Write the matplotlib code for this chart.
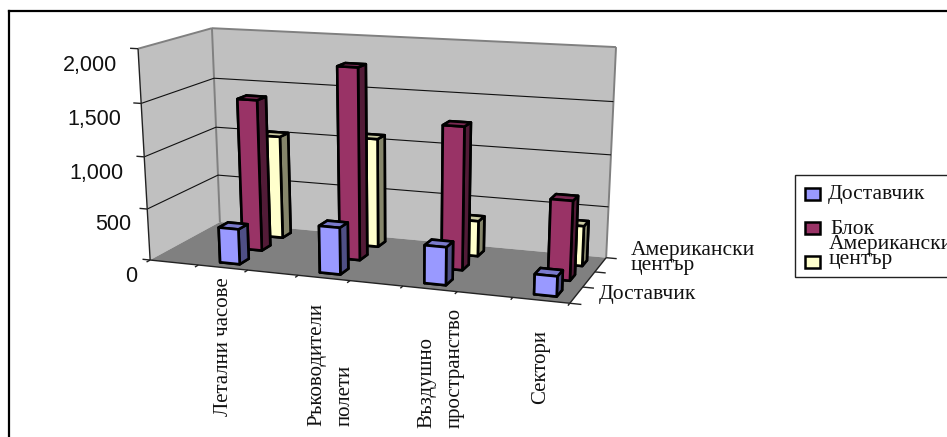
import matplotlib
matplotlib.use('Agg')
import matplotlib.pyplot as plt
import numpy as np
from matplotlib.lines import Line2D
from matplotlib.patches import Rectangle
from mpl_toolkits.mplot3d.art3d import Poly3DCollection, Line3DCollection

W, H = 947, 437

# data
categories = ['Летални часове', 'Ръководители\nполети', 'Въздушно\nпространство', 'Сектори']
series_names = ['Доставчик', 'Блок', 'Американски\nцентър']
supplier = [340, 445, 355, 185]
block = [1470, 1830, 1350, 745]
american = [1025, 1070, 345, 385]
z_ticks = [0, 500, 1000, 1500, 2000]
z_labels = ['0', '500', '1,000', '1,500', '2,000']

# box corners of the chart (x, y, z) -> pixel in the picture
X_MAX, Y_MAX, Z_MAX = 8, 3, 2000
corners = [((0, 0, 0), (150, 260)), ((0, 0, Z_MAX), (138, 49)),
           ((0, Y_MAX, Z_MAX), (212, 28)), ((0, Y_MAX, 0), (220, 222)),
           ((X_MAX, Y_MAX, Z_MAX), (616, 47)), ((X_MAX, Y_MAX, 0), (606, 258)),
           ((X_MAX, 0, 0), (570, 303))]


def fit_projection(pts):
    rows = []
    for (x, y, z), (u, v) in pts:
        v = H - v
        rows.append([x, y, z, 1, 0, 0, 0, 0, -u*x, -u*y, -u*z, -u])
        rows.append([0, 0, 0, 0, x, y, z, 1, -v*x, -v*y, -v*z, -v])
    P = np.linalg.svd(np.array(rows, float))[2][-1].reshape(3, 4)
    P = P / P[2, 3]
    # third row is only the depth for sorting faces
    depth = [-1.0/X_MAX, 3.0/Y_MAX, -1.0/Z_MAX, 0]
    return np.array([P[0], P[1], depth, P[2]])


M = fit_projection(corners)

fig = plt.figure(figsize=(W/100, H/100), dpi=100)
ax = fig.add_axes([0, 0, 1, 1], projection='3d')
ax.set_axis_off()
ax.computed_zorder = False
ax.get_proj = lambda: M
ax.apply_aspect = lambda position=None: None
ax._viewLim.set_points(np.array([[0.0, 0.0], [W, H]]))


def draw_lines(paths, color, lw, zorder):
    # Line3DCollection wants segments of equal length, so split the paths
    segs = [[p[i], p[i + 1]] for p in paths for i in range(len(p) - 1)]
    ax.add_collection3d(Line3DCollection(segs, colors=color, linewidths=lw, zorder=zorder))


wall = '#C0C0C0'
floor = '#808080'
edge = '#808080'
axis_col = '#222222'
walls = [[(0, 0, 0), (0, 0, Z_MAX), (0, Y_MAX, Z_MAX), (0, Y_MAX, 0)],
         [(0, Y_MAX, 0), (0, Y_MAX, Z_MAX), (X_MAX, Y_MAX, Z_MAX), (X_MAX, Y_MAX, 0)]]
ax.add_collection3d(Poly3DCollection(walls, facecolors=wall, edgecolors='none', zorder=1))
ax.add_collection3d(Poly3DCollection([[(0, 0, 0), (0, Y_MAX, 0), (X_MAX, Y_MAX, 0), (X_MAX, 0, 0)]],
                                     facecolors=floor, edgecolors='none', zorder=1))

# wall edges
draw_lines([[(0, 0, Z_MAX), (0, Y_MAX, Z_MAX), (X_MAX, Y_MAX, Z_MAX), (X_MAX, Y_MAX, 0)],
            [(0, Y_MAX, Z_MAX), (0, Y_MAX, 0)]], edge, 1.4, 2)

# grid
for z in z_ticks[1:-1]:
    draw_lines([[(0, 0, z), (0, Y_MAX, z), (X_MAX, Y_MAX, z)]], '#111111', 0.8, 2)

# axes
draw_lines([[(0, 0, 0), (0, 0, Z_MAX)], [(0, 0, 0), (X_MAX, 0, 0), (X_MAX, Y_MAX, 0)]], axis_col, 1.0, 3)
draw_lines([[(-0.16, 0, z), (0, 0, z)] for z in z_ticks], axis_col, 1.0, 3)
draw_lines([[(x, -0.14, 0), (x, 0, 0)] for x in range(X_MAX + 1)], axis_col, 1.0, 3)
draw_lines([[(X_MAX, y, 0), (X_MAX + 0.2, y, 0)] for y in range(Y_MAX + 1)], axis_col, 1.0, 3)

# bars: faces are bottom, top, front, back, left, right
palette = [('#9999FF', '#7A7ACC', '#4F4F85'),
           ('#993366', '#7A2952', '#521B37'),
           ('#FFFFCC', '#CCCCA3', '#85856A')]
values = [supplier, block, american]
bar_w, bar_d = 0.4, 0.4
for s in [2, 1, 0]:
    face, top, side = palette[s]
    for c in range(len(categories)):
        bars = ax.bar3d(2*c + 1.5 - bar_w/2, s + 0.5 - bar_d/2, 0, bar_w, bar_d, values[s][c],
                        color=[side, top, face, side, side, side],
                        edgecolor='black', linewidth=1.9, shade=False)
        bars.set_zorder(10 + (2 - s))

serif = 'Liberation Serif'
text_col = '#111111'
FS = 15.5

# value labels, pixel placement
z_label_right = [137, 131, 123, 121, 117]
z_label_y = [277, 225, 174, 120, 65]
for lab, x, y in zip(z_labels, z_label_right, z_label_y):
    fig.text(x/W, 1 - y/H, lab, ha='right', va='center', family='Liberation Sans', fontsize=15.5, color=text_col)

# category labels
label_x = [223, 331, 441, 541]
label_top = [277, 303, 308, 330]
for name, x, y in zip(categories, label_x, label_top):
    fig.text(x/W, 1 - y/H, name, rotation=90, ha='center', va='top', multialignment='left',
             family=serif, fontsize=15, linespacing=1.6, color=text_col)

fig.text(599/W, 1 - 295/H, series_names[0], ha='left', va='center', family=serif, fontsize=FS, color=text_col)
fig.text(631/W, 1 - 258/H, series_names[2], ha='left', va='center', family=serif, fontsize=FS,
         linespacing=0.73, color=text_col)

# legend
fig.add_artist(Rectangle((795/W, 1 - 277/H), 200/W, 102/H, transform=fig.transFigure,
                         facecolor='white', edgecolor='#222222', lw=1.0))
swatch_y = [188, 222, 256]
for (face, _, _), y in zip(palette, swatch_y):
    fig.add_artist(Rectangle((805/W, 1 - (y + 12)/H), 15/W, 12/H, transform=fig.transFigure,
                             facecolor=face, edgecolor='black', lw=1.8))
fig.text(828/W, 1 - 194/H, series_names[0], va='center', family=serif, fontsize=FS, color=text_col)
fig.text(830/W, 1 - 229/H, series_names[1], va='center', family=serif, fontsize=FS, color=text_col)
fig.text(829/W, 1 - 252/H, series_names[2], va='center', family=serif, fontsize=FS,
         linespacing=0.73, color=text_col)

# outer frame
fig.add_artist(Line2D([9/W, 9/W], [0, 1 - 11/H], color='black', lw=1.6))
fig.add_artist(Line2D([9/W, 1], [1 - 11/H, 1 - 11/H], color='black', lw=1.6))

fig.savefig('out.png', dpi=100)
